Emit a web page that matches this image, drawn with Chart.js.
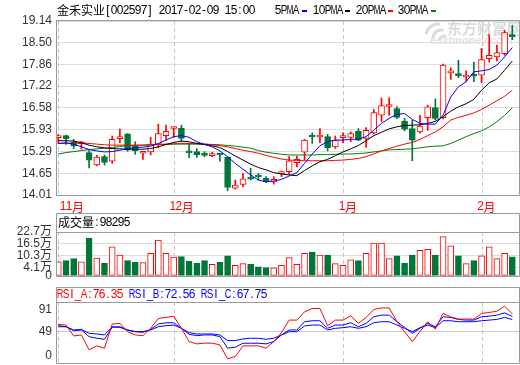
<!DOCTYPE html>
<html>
<head>
<meta charset="utf-8">
<script src="https://cdn.jsdelivr.net/npm/chart.js@4.4.0/dist/chart.umd.min.js"></script>
<style>
html, body { margin: 0; padding: 0; background: #fff; }
#wrap { position: relative; width: 520px; height: 365px; overflow: hidden; }
canvas { position: absolute; left: 0; }
</style>
</head>
<body>
<div id="wrap">
  <canvas id="priceChart" width="520" height="213" style="top:0"></canvas>
  <canvas id="volChart" width="520" height="74" style="top:213px"></canvas>
  <canvas id="rsiChart" width="520" height="78" style="top:287px"></canvas>
</div>
<script>
const stockName = '金禾实业[002597] 2017-02-09 15:00';

const dates = [
  '2016-11-10','2016-11-11','2016-11-14','2016-11-15','2016-11-16','2016-11-17','2016-11-18','2016-11-21','2016-11-22','2016-11-23',
  '2016-11-24','2016-11-25','2016-11-28','2016-11-29','2016-11-30','2016-12-01','2016-12-02','2016-12-05','2016-12-06','2016-12-07',
  '2016-12-08','2016-12-09','2016-12-12','2016-12-13','2016-12-14','2016-12-15','2016-12-16','2016-12-19','2016-12-20','2016-12-21',
  '2016-12-22','2016-12-23','2016-12-26','2016-12-27','2016-12-28','2016-12-29','2016-12-30','2017-01-03','2017-01-04','2017-01-05',
  '2017-01-06','2017-01-09','2017-01-10','2017-01-11','2017-01-12','2017-01-13','2017-01-16','2017-01-17','2017-01-18','2017-01-19',
  '2017-01-20','2017-01-23','2017-01-24','2017-01-25','2017-01-26','2017-02-03','2017-02-06','2017-02-07','2017-02-08','2017-02-09'
];

const open = [
  15.70,15.76,15.56,15.52,15.26,14.90,15.14,15.01,15.67,15.81,
  15.47,15.24,15.28,15.51,15.76,15.97,15.98,15.30,15.29,15.19,
  15.17,15.21,15.13,14.21,14.32,14.49,14.56,14.50,14.39,14.64,
  14.70,14.96,15.27,15.73,15.72,15.73,15.43,15.70,15.71,15.89,
  15.68,15.84,16.36,16.62,16.56,16.19,15.97,15.87,16.29,16.59,
  16.29,17.61,17.55,17.49,17.53,17.54,18.03,18.08,18.18,18.71
];
const high = [
  15.79,15.78,15.65,15.59,15.32,15.18,15.19,15.75,15.95,15.82,
  15.58,15.28,15.71,16.10,16.07,16.00,16.07,15.53,15.38,15.29,
  15.27,15.24,15.13,14.45,14.65,14.80,14.65,14.55,14.55,14.72,
  15.14,15.16,15.65,15.84,15.97,15.80,15.75,15.84,15.87,15.97,
  16.00,16.53,16.87,16.88,16.62,16.27,16.22,16.36,16.66,16.84,
  17.87,17.76,17.98,17.67,17.93,18.33,18.74,18.43,18.87,19.01
];
const low = [
  15.53,15.50,15.38,15.36,14.81,14.87,14.89,14.94,15.55,15.30,
  15.21,15.06,15.19,15.40,15.63,15.71,15.58,15.11,15.12,15.14,
  15.14,15.01,14.14,14.18,14.25,14.45,14.45,14.37,14.33,14.55,
  14.62,14.84,15.04,15.53,15.55,15.31,15.38,15.55,15.58,15.61,
  15.41,15.81,16.18,16.36,16.26,15.90,15.02,15.83,15.92,16.22,
  16.25,17.42,17.47,17.36,17.35,17.32,17.93,17.96,18.13,18.59
];
const close = [
  15.71,15.67,15.46,15.54,15.04,15.13,14.97,15.65,15.70,15.33,
  15.32,15.27,15.51,15.82,15.89,15.98,15.68,15.25,15.19,15.18,
  15.19,15.19,14.23,14.30,14.49,14.48,14.54,14.40,14.47,14.66,
  15.02,15.06,15.63,15.72,15.75,15.40,15.63,15.73,15.82,15.63,
  15.92,16.44,16.65,16.65,16.30,15.95,15.63,16.04,16.61,16.27,
  17.84,17.67,17.53,17.51,17.51,18.00,18.13,18.21,18.80,18.68
];

const ma5 = [
  15.53,15.55,15.51,15.43,15.35,15.31,15.28,15.29,15.33,15.38,
  15.41,15.42,15.45,15.53,15.63,15.73,15.76,15.71,15.58,15.50,
  15.43,15.31,15.14,14.94,14.77,14.60,14.45,14.40,14.42,14.47,
  14.57,14.67,14.94,15.22,15.46,15.58,15.63,15.63,15.65,15.66,
  15.73,15.92,16.12,16.27,16.39,16.41,16.24,16.12,16.10,16.10,
  16.36,16.90,17.20,17.35,17.64,17.67,17.71,17.84,18.08,18.36
];
const ma10 = [
  15.61,15.61,15.60,15.55,15.48,15.43,15.40,15.38,15.37,15.36,
  15.36,15.36,15.38,15.43,15.50,15.56,15.60,15.58,15.53,15.50,
  15.46,15.41,15.29,15.16,15.04,14.92,14.82,14.75,14.67,14.63,
  14.60,14.58,14.73,14.87,14.99,15.06,15.17,15.28,15.37,15.47,
  15.61,15.76,15.86,15.96,16.02,16.06,16.07,16.08,16.12,16.18,
  16.32,16.48,16.61,16.70,16.83,17.10,17.32,17.43,17.69,17.96
];
const ma20 = [
  15.53,15.53,15.54,15.54,15.53,15.51,15.49,15.48,15.48,15.48,
  15.48,15.48,15.49,15.50,15.51,15.52,15.53,15.53,15.52,15.51,
  15.49,15.47,15.43,15.38,15.33,15.29,15.24,15.18,15.12,15.07,
  15.04,15.03,15.02,15.02,15.02,15.02,15.03,15.04,15.06,15.09,
  15.14,15.22,15.31,15.38,15.45,15.51,15.56,15.65,15.76,15.87,
  16.02,16.22,16.30,16.36,16.43,16.53,16.66,16.79,16.92,17.10
];
const ma30 = [
  15.22,15.26,15.29,15.32,15.35,15.37,15.39,15.41,15.44,15.46,
  15.47,15.48,15.49,15.50,15.50,15.51,15.51,15.51,15.51,15.51,
  15.50,15.49,15.47,15.45,15.42,15.39,15.32,15.27,15.24,15.21,
  15.19,15.19,15.19,15.19,15.20,15.20,15.21,15.22,15.22,15.23,
  15.25,15.28,15.31,15.34,15.35,15.36,15.37,15.40,15.43,15.45,
  15.46,15.53,15.63,15.73,15.82,15.90,16.02,16.17,16.36,16.58
];

// volume in 万 (10k)
const volume = [
  7.3,7.9,8.9,7.3,19.5,9.2,6.5,15.0,10.7,7.9,
  7.0,6.8,11.6,18.5,11.6,9.7,9.9,7.5,6.5,7.9,
  5.9,7.0,10.3,5.4,6.3,6.0,4.7,4.3,4.1,5.4,
  9.4,6.0,11.6,12.3,10.7,10.8,6.3,5.4,8.3,7.9,
  11.6,16.9,16.9,8.9,10.3,6.5,10.8,13.2,13.7,10.8,
  20.3,15.5,10.3,6.3,7.9,10.3,15.0,8.9,11.6,9.83
];
const lastVolume = 98295;

const rsiA = [
  60.2,59.1,42.1,43.7,20.5,26.7,23.1,60.6,61.7,48.8,
  43.7,42.6,54.0,69.4,71.0,73.0,54.0,33.3,29.8,30.9,
  30.9,28.2,6.6,10.2,26.7,26.7,26.7,23.1,33.3,47.2,
  66.8,66.8,79.6,84.9,84.9,58.0,66.8,66.8,73.5,61.7,
  71.0,83.3,85.8,85.8,64.2,48.8,33.3,48.8,64.2,52.9,
  77.2,71.9,68.4,68.4,68.4,77.2,78.7,80.7,88.4,76.35
];
const rsiB = [
  58.1,56.5,50.4,51.4,41.1,38.5,37.0,55.5,56.5,51.4,
  48.8,47.8,52.4,60.7,62.7,62.7,54.0,44.7,42.6,43.7,
  43.7,41.1,23.1,24.6,30.8,30.8,30.8,29.8,33.4,43.7,
  51.4,51.4,64.3,65.8,65.8,54.0,59.1,59.1,62.7,56.5,
  61.7,72.0,74.5,74.5,64.3,55.5,46.2,54.0,61.7,56.5,
  72.0,70.9,67.9,66.8,66.8,72.0,73.0,74.5,78.1,72.56
];
const rsiC = [
  56.5,56.5,51.4,52.4,46.2,45.2,43.7,56.5,55.5,51.4,
  48.8,48.8,51.4,56.5,58.1,59.1,54.0,47.3,45.2,45.2,
  45.2,43.7,34.9,34.9,37.5,38.5,38.5,37.0,38.5,43.7,
  48.8,48.8,57.6,59.1,59.1,51.4,54.0,55.0,56.5,54.0,
  56.5,62.7,64.3,64.3,59.1,54.0,48.8,55.0,59.1,55.0,
  65.8,65.8,64.3,64.3,64.3,65.8,66.8,67.9,71.0,67.75
];

const priceTicks = ['14.01','14.65','15.29','15.93','16.58','17.22','17.86','18.50','19.14'];
const volTicks = [0, 4.1, 10.3, 16.5, 22.7];
const rsiTicks = [0, 49, 91];

const RED = '#ff0000', GREEN = '#00763a', BLUE = '#0000ff';
const FRAME = '#9a9a9a', GRID = '#dcdcdc', DASH = '#c4c4c4';
const FONT = '"Liberation Sans", "Noto Sans CJK SC", sans-serif';

const up = close.map((c, i) => c >= open[i]);
const xs = dates.map((d, i) => i);
const monthIdx = xs.filter(i => i === 0 || dates[i].slice(5, 7) !== dates[i - 1].slice(5, 7));

// draw text on a fixed 6px / 12px grid, like the bitmap font of the original
function drawMono(ctx, text, x, y, color) {
  ctx.save();
  ctx.fillStyle = color;
  ctx.textBaseline = 'middle';
  ctx.textAlign = 'center';
  for (const ch of text) {
    const wide = ch.charCodeAt(0) > 0x2e80;
    const cell = wide ? 12 : 6;
    ctx.font = wide ? '12px "Noto Sans CJK SC"' : '12px "Liberation Sans"';
    const w = ctx.measureText(ch).width || 1;
    const k = Math.min(1, (cell + 0.6) / w);
    ctx.save();
    ctx.translate(x + cell / 2, y);
    ctx.scale(k, 1);
    ctx.fillText(ch, 0, 0);
    ctx.restore();
    x += cell;
  }
  ctx.restore();
  return x;
}

function monthLines(chart) {
  const { ctx, chartArea: a, scales: { x } } = chart;
  ctx.save();
  ctx.strokeStyle = DASH;
  ctx.lineWidth = 1;
  ctx.setLineDash([4, 3]);
  monthIdx.forEach(i => {
    const px = Math.round(x.getPixelForValue(i)) + 0.5;
    ctx.beginPath();
    ctx.moveTo(px, a.top);
    ctx.lineTo(px, a.bottom);
    ctx.stroke();
  });
  ctx.restore();
}

function box(ctx, a, top) {
  ctx.save();
  ctx.strokeStyle = FRAME;
  ctx.lineWidth = 1;
  const l = Math.round(a.left) + 0.5, r = Math.round(a.right) + 0.5;
  const b = Math.round(a.bottom) + 0.5;
  ctx.beginPath();
  ctx.moveTo(l, top); ctx.lineTo(r, top);
  ctx.lineTo(r, b); ctx.lineTo(l, b); ctx.closePath();
  ctx.stroke();
  ctx.restore();
}

function hline(ctx, a, y) {
  ctx.save();
  ctx.strokeStyle = FRAME;
  ctx.beginPath();
  ctx.moveTo(a.left, Math.round(y) - 0.5);
  ctx.lineTo(a.right + 1, Math.round(y) - 0.5);
  ctx.stroke();
  ctx.restore();
}

const xMin = -0.3, xMax = 59.87;
function xAxis() {
  return { type: 'linear', min: xMin, max: xMax, offset: false, display: false };
}

const common = {
  responsive: false,
  animation: false,
  devicePixelRatio: 1,
  events: [],
  plugins: { legend: { display: false }, tooltip: { enabled: false } }
};

// ---------- price chart ----------
const line = (data, color) => ({
  type: 'line',
  data: data.map((v, i) => ({ x: i, y: v })),
  borderColor: color,
  borderWidth: 1,
  pointRadius: 0,
  tension: 0,
  fill: false,
  order: 0
});

new Chart(document.getElementById('priceChart'), {
  type: 'bar',
  data: {
    datasets: [
      line(ma5, BLUE),
      line(ma10, '#000000'),
      line(ma20, RED),
      line(ma30, '#008000'),
      {
        data: open.map((o, i) => ({ x: i, y: [Math.min(o, close[i]), Math.max(o, close[i])] })),
        backgroundColor: up.map(u => u ? '#ffffff' : GREEN),
        borderColor: up.map(u => u ? RED : GREEN),
        borderWidth: 1,
        borderSkipped: false,
        barThickness: 6,
        minBarLength: 2,
        grouped: false,
        order: 1
      },
      {
        data: high.map((h, i) => ({ x: i, y: [low[i], h] })),
        backgroundColor: up.map(u => u ? RED : GREEN),
        barThickness: 1,
        borderWidth: 0,
        grouped: false,
        order: 2
      }
    ]
  },
  options: {
    ...common,
    layout: { autoPadding: false, padding: { top: 21, right: 1, bottom: 18, left: 0 } },
    scales: {
      x: xAxis(),
      y: {
        min: 14.01,
        max: 19.14,
        afterBuildTicks(s) { s.ticks = priceTicks.map(t => ({ value: parseFloat(t) })); },
        afterFit(s) { s.width = 56; },
        ticks: { autoSkip: false, padding: 4, color: '#333', font: { family: FONT, size: 12 }, callback: (v, i) => priceTicks[i] },
        grid: { color: GRID, drawTicks: false },
        border: { display: false }
      }
    }
  },
  plugins: [{
    id: 'priceDecor',
    beforeDatasetsDraw(chart) {
      const ctx = chart.ctx;
      // watermark
      ctx.save();
      ctx.fillStyle = '#dadada';
      ctx.strokeStyle = '#dadada';
      ctx.lineWidth = 3;
      ctx.beginPath(); ctx.arc(438, 36, 12, Math.PI * 1.05, Math.PI * 1.55); ctx.stroke();
      ctx.beginPath(); ctx.arc(441, 38, 8, Math.PI * 1.0, Math.PI * 1.6); ctx.stroke();
      ctx.beginPath(); ctx.arc(444, 40, 4, Math.PI * 1.0, Math.PI * 1.7); ctx.stroke();
      ctx.font = 'bold 15px "Noto Sans CJK SC"';
      ctx.textBaseline = 'middle';
      ctx.fillText('东方财富网', 447, 28);
      ctx.font = 'italic bold 11px "Liberation Sans"';
      ctx.fillStyle = '#e0e0e0';
      ctx.fillText('eastmoney.com', 430, 41);
      ctx.restore();
      monthLines(chart);
    },
    afterDraw(chart) {
      const { ctx, chartArea: a, scales: { x } } = chart;
      box(ctx, a, Math.round(a.top) - 0.5);
      // title and legend
      const split = stockName.indexOf('[');
      let tx = drawMono(ctx, stockName.slice(0, split), 57, 10.5, '#000');
      drawMono(ctx, stockName.slice(split), tx, 10.5, '#000');
      const legend = [
        { t: '5PMA', x: 275, d: 302, c: BLUE },
        { t: '10PMA', x: 313, d: 345, c: '#000000' },
        { t: '20PMA', x: 356, d: 388, c: RED },
        { t: '30PMA', x: 398, d: 431, c: '#008000' }
      ];
      legend.forEach(l => {
        drawMono(ctx, l.t, l.x, 10.5, '#000');
        ctx.fillStyle = l.c;
        ctx.fillRect(l.d, 10, 5, 2);
      });
      // month labels
      monthIdx.forEach(i => {
        const m = parseInt(dates[i].slice(5, 7), 10) + '月';
        const px = Math.max(x.getPixelForValue(i) - 4, a.left + 4);
        drawMono(ctx, m, px, 207, RED);
      });
    }
  }]
});

// ---------- volume chart ----------
new Chart(document.getElementById('volChart'), {
  type: 'bar',
  data: {
    datasets: [{
      data: volume.map((v, i) => ({ x: i, y: v })),
      backgroundColor: up.map(u => u ? '#ffffff' : GREEN),
      borderColor: up.map(u => u ? RED : GREEN),
      borderWidth: 1,
      borderSkipped: false,
      barThickness: 6
    }]
  },
  options: {
    ...common,
    layout: { autoPadding: false, padding: { top: 19, right: 1, bottom: 7, left: 0 } },
    scales: {
      x: xAxis(),
      y: {
        min: 0,
        max: 22.7,
        afterBuildTicks(s) { s.ticks = volTicks.map(v => ({ value: v })); },
        afterFit(s) { s.width = 56; },
        ticks: {
          autoSkip: false, padding: 4, color: '#333', font: { family: FONT, size: 12 },
          callback: v => v === 0 ? '0' : v.toFixed(1) + '万'
        },
        grid: { color: GRID, drawTicks: false },
        border: { display: false }
      }
    }
  },
  plugins: [{
    id: 'volDecor',
    beforeDatasetsDraw(chart) { monthLines(chart); },
    afterDraw(chart) {
      const { ctx, chartArea: a } = chart;
      box(ctx, a, 0.5);
      hline(ctx, a, a.top + 0.5);
      drawMono(ctx, '成交量:' + lastVolume, 58, 9.5, '#000');
    }
  }]
});

// ---------- RSI chart ----------
const rsiLine = (data, color) => ({
  type: 'line',
  data: data.map((v, i) => ({ x: i, y: v })),
  borderColor: color,
  borderWidth: 1,
  pointRadius: 0,
  tension: 0,
  fill: false
});

new Chart(document.getElementById('rsiChart'), {
  type: 'line',
  data: { datasets: [rsiLine(rsiA, RED), rsiLine(rsiB, BLUE), rsiLine(rsiC, BLUE)] },
  options: {
    ...common,
    layout: { autoPadding: false, padding: { top: 15, right: 1, bottom: 2, left: 0 } },
    scales: {
      x: xAxis(),
      y: {
        min: 0,
        max: 95,
        afterBuildTicks(s) { s.ticks = [{ value: 49 }]; },
        afterFit(s) { s.width = 56; },
        ticks: { display: false },
        grid: { color: '#cccccc', drawTicks: false },
        border: { display: false }
      }
    }
  },
  plugins: [{
    id: 'rsiDecor',
    beforeDatasetsDraw(chart) { monthLines(chart); },
    afterDraw(chart) {
      const { ctx, chartArea: a, scales: { y } } = chart;
      box(ctx, a, 0.5);
      hline(ctx, a, a.top + 0.5);
      const last = rsiA.length - 1;
      let tx = drawMono(ctx, 'RSI_A:' + rsiA[last].toFixed(2) + ' ', 57, 7.5, RED);
      tx = drawMono(ctx, 'RSI_B:' + rsiB[last].toFixed(2) + ' ', tx, 7.5, BLUE);
      drawMono(ctx, 'RSI_C:' + rsiC[last].toFixed(2), tx, 7.5, BLUE);
      ctx.save();
      ctx.fillStyle = '#333';
      ctx.font = '12px ' + FONT;
      ctx.textAlign = 'right';
      ctx.textBaseline = 'middle';
      rsiTicks.forEach(v => {
        const py = Math.min(Math.max(y.getPixelForValue(v), a.top + 8), a.bottom - 7);
        ctx.fillText(String(v), 52, py);
      });
      ctx.restore();
    }
  }]
});
</script>
</body>
</html>
